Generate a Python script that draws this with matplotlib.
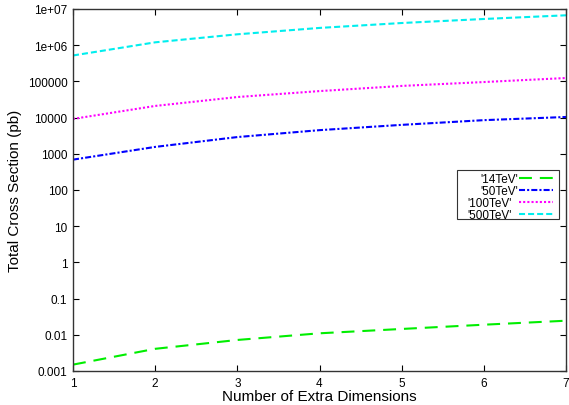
import matplotlib
matplotlib.use("Agg")
import matplotlib.pyplot as plt
from matplotlib.patches import Rectangle

plt.rcParams['font.family'] = ['Liberation Sans', 'DejaVu Sans']

n_dims = [1, 2, 3, 4, 5, 6, 7]
xs_14 = [0.0015, 0.0041, 0.0072, 0.011, 0.0145, 0.019, 0.0245]
xs_50 = [690, 1550, 2900, 4500, 6300, 8500, 10400]
xs_100 = [9200, 21000, 37000, 54000, 75000, 96000, 124000]
xs_500 = [5.2e5, 1.2e6, 2.0e6, 3.0e6, 4.1e6, 5.3e6, 6.7e6]
labels = ["'14TeV'", "'50TeV'", "'100TeV'", "'500TeV'"]
yticks = [0.001, 0.01, 0.1, 1, 10, 100, 1000, 10000, 100000, 1e6, 1e7]
ytick_labels = ['0.001', '0.01', '0.1', '1', '10', '100', '1000', '10000', '100000', '1e+06', '1e+07']

W, H = 569, 406
fig = plt.figure(figsize=(W/100, H/100), dpi=100)
ax = fig.add_axes([73/W, 1 - 372/H, (566-73)/W, (372-10)/H])

lw = 1.5
ax.plot(n_dims, xs_14, color='#00ee00', lw=lw, dashes=(6.2, 3.8), label=labels[0])
ax.plot(n_dims, xs_50, color='#0000ff', lw=lw, dashes=(2.9, 1.0, 1.0, 1.0), label=labels[1])
ax.plot(n_dims, xs_100, color='#ff00ff', lw=lw, dashes=(1.0, 1.0), label=labels[2])
ax.plot(n_dims, xs_500, color='#00eeee', lw=lw, dashes=(2.9, 1.45), label=labels[3])

ax.set_yscale('log')
ax.set_xlim(1, 7)
ax.set_ylim(0.001, 1e7)
ax.set_yticks(yticks)
ax.set_yticklabels(ytick_labels)
ax.minorticks_off()
ax.set_xticks(n_dims)
ax.tick_params(direction='in', top=True, right=True, labelsize=8.5, length=4, width=0.8, pad=4)
for s in ax.spines.values():
    s.set_linewidth(1.0)
    s.set_color('#333333')

ax.set_xlabel('Number of Extra Dimensions', fontsize=11, labelpad=0)
ax.set_ylabel('Total Cross Section (pb)', fontsize=11, labelpad=4)

leg = fig.legend(loc='upper right', bbox_to_anchor=(553/W, 1 - 174/H),
                 bbox_transform=fig.transFigure,
                 markerfirst=False, fontsize=8.5, frameon=False,
                 handlelength=2.9, handletextpad=0.6, labelspacing=0.0,
                 borderpad=0.0, borderaxespad=0)
fig.canvas.draw()
renderer = fig.canvas.get_renderer()
widths = [t.get_window_extent(renderer).width for t in leg.get_texts()]
mw = max(widths)
for t, w in zip(leg.get_texts(), widths):
    t.set_position((mw - w, 0))

fig.patches.append(Rectangle((457/W, 1 - 220/H), (559-457)/W, (220-171)/H,
                             transform=fig.transFigure, fill=False,
                             edgecolor='#333333', linewidth=0.8, zorder=5))

fig.savefig('out.png', dpi=100)
